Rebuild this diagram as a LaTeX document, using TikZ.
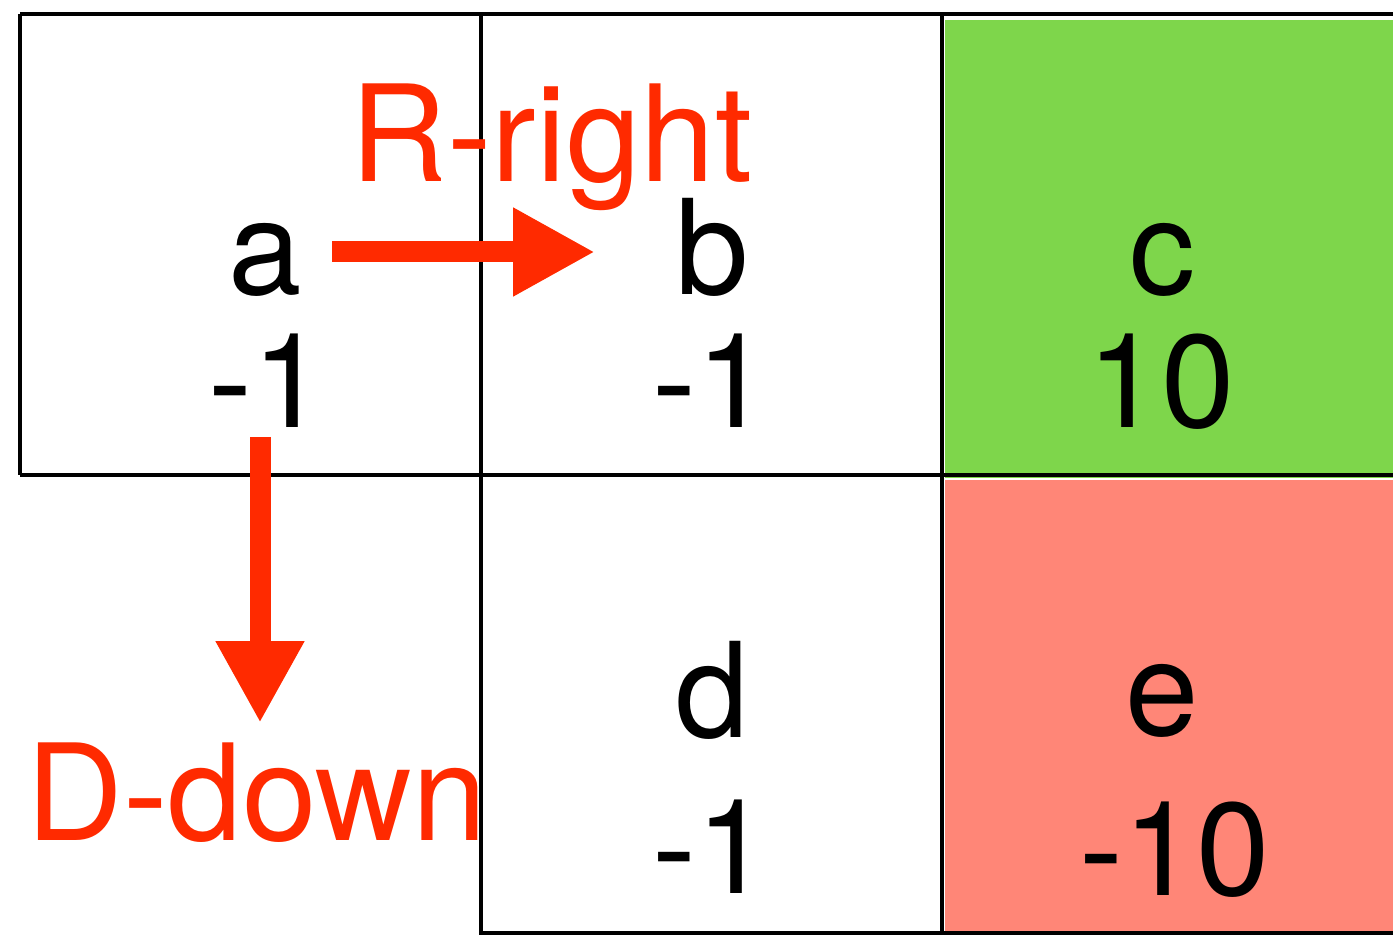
\documentclass[tikz,border=0pt]{standalone}
\usepackage{fontspec}
\setmainfont{TeX Gyre Heros}
\usetikzlibrary{arrows.meta}
\definecolor{cgreen}{HTML}{7ED64B}
\definecolor{csalmon}{HTML}{FF8677}
\definecolor{cred}{HTML}{FF2A00}
\begin{document}
\begin{tikzpicture}[x=0.5pt,y=-0.5pt,
  gridline/.style={line width=2.4pt,black},
  celltext/.style={anchor=base,inner sep=0pt,font=\fontsize{66}{70}\selectfont},
  redtext/.style={anchor=base west,inner sep=0pt,text=cred,font=\fontsize{67}{70}\selectfont},
  movearrow/.style={line width=10.5pt,cred,-{Triangle[length=41pt,width=41.5pt]}}]
\useasboundingbox (0,0) rectangle (1393,935);
% fills
\fill[cgreen] (945,20) rectangle (1393,478);
\fill[csalmon] (945,480) rectangle (1393,931);
% grid lines
\draw[gridline] (20,14) -- (1393,14);
\draw[gridline] (20,475) -- (1393,475);
\draw[gridline] (481,933) -- (1393,933);
\draw[gridline] (20,14) -- (20,475);
\draw[gridline] (481,14) -- (481,935);
\draw[gridline] (942,14) -- (942,935);
% cell texts
\node[celltext] (a) at (265,295) {a};
\node[celltext] (av) at (267,428) {-1};
\node[celltext] (b) at (712,295) {b};
\node[celltext] (bv) at (711,428) {-1};
\node[celltext] (c) at (1162,295) {c};
\node[celltext] (cv) at (1161,428) {10};
\node[celltext] (d) at (712,737) {d};
\node[celltext] (dv) at (711,893) {-1};
\node[celltext] (e) at (1162,735) {e};
\node[celltext] (ev) at (1175,895) {-10};
% arrows
\coordinate (rs) at (332,252);
\coordinate (re) at (595,252);
\coordinate (ds) at (260,437);
\coordinate (de) at (260,723);
\draw[movearrow] (rs) -- (re);
\draw[movearrow] (ds) -- (de);
% red labels
\node[redtext] (rl) at (350,182) {R-right};
\node[redtext] (dl) at (26,840) {D-down};
\end{tikzpicture}
\end{document}
